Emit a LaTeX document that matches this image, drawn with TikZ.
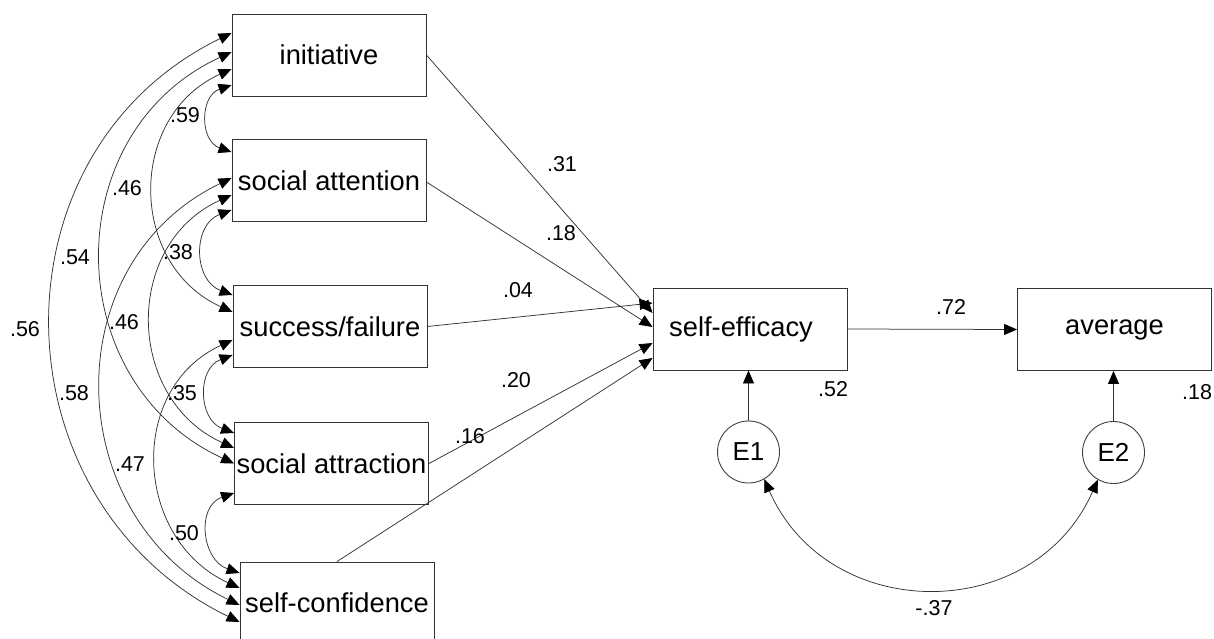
\documentclass[tikz,border=0pt]{standalone}
\usepackage{fontspec}
\setmainfont{Liberation Sans}
\usetikzlibrary{arrows.meta,calc}
\begin{document}
\begin{tikzpicture}[x=1pt,y=-1pt,
  box/.style={draw=black!80, line width=0.9pt, minimum width=194pt, minimum height=82pt, inner sep=0pt, font=\fontsize{27.3}{30}\selectfont},
  err/.style={draw=black!75, line width=0.9pt, circle, minimum size=62pt, inner sep=0pt, font=\fontsize{26}{28}\selectfont},
  lab/.style={font=\fontsize{21.5}{24}\selectfont, inner sep=0pt},
  link/.style={draw=black!80, line width=0.75pt},
  hd/.tip={Triangle[length=13pt,width=11pt,color=black,fill=black]},
  tip/.style={-hd},
  dtip/.style={hd-hd},
]
\useasboundingbox (0,0) rectangle (1214,639);

% nodes
\node[box] (ini) at (329,55) {initiative};
\node[box] (sat) at (329,180.5) {social attention};
\node[box] (suf) at (330,326.5) {success/failure};
\node[box] (sar) at (331.5,463.5) {social attraction};
\node[box] (sco) at (337,603) {self-confidence};
\node[box] (sef) at (750,329) {\hspace*{-18pt}self-efficacy};
\node[box] (avg) at (1114.5,329.5) {average};
\node[err] (e1) at (748.5,452) {E1};
\node[err] (e2) at (1113.5,452.5) {E2};

% regressions
\draw[link,tip] (ini.east) -- ([yshift=16pt]sef.west);
\draw[link,tip] ([yshift=-1.5pt]sat.east) -- ([yshift=2pt]sef.west);
\draw[link,tip] (suf.east) -- ([yshift=26pt]sef.west);
\draw[link,tip] (sar.east) -- ([yshift=-14pt]sef.west);
\draw[link,tip] (sco.north) -- ([yshift=-29pt]sef.west);
\draw[link,tip] (sef.east) -- (avg.west);
\draw[link,tip] (e1.north) -- (e1.north |- sef.south);
\draw[link,tip] (e2.north) -- (e2.north |- avg.south);
\draw[link,dtip] (e1.300) .. controls +(63.9,145.5) and +(-63.9,145.5) .. (e2.240);

% correlations
\draw[link,dtip] ([yshift=22pt]ini.west) .. controls +(-245.4,119.7) and +(-245.4,-119.7) .. ([yshift=-19pt]sco.west);
\draw[link,dtip] ([yshift=3pt]ini.west) .. controls +(-175.2,80.8) and +(-175.2,-80.8) .. (sar.west);
\draw[link,dtip] ([yshift=2.5pt]sat.west) .. controls +(-178.6,86.3) and +(-178.6,-86.3) .. ([yshift=-2pt]sco.west);
\draw[link,dtip] ([yshift=-14pt]ini.west) .. controls +(-104.6,47.2) and +(-104.6,-47.2) .. ([yshift=14.5pt]suf.west);
\draw[link,dtip] ([yshift=-14.5pt]sat.west) .. controls +(-108.7,49.3) and +(-108.7,-49.3) .. ([yshift=15.5pt]sar.west);
\draw[link,dtip] ([yshift=-13.5pt]suf.west) .. controls +(-105.9,48.7) and +(-105.9,-48.7) .. ([yshift=15pt]sco.west);
\draw[link,dtip] ([yshift=-30pt]ini.west) .. controls +(-31.9,11) and +(-31.9,-11) .. ([yshift=28.5pt]sat.west);
\draw[link,dtip] ([yshift=-29.5pt]sat.west) .. controls +(-39.3,14.7) and +(-39.3,-14.7) .. ([yshift=31.5pt]suf.west);
\draw[link,dtip] ([yshift=-28.5pt]suf.west) .. controls +(-35.9,13.6) and +(-35.9,-13.6) .. ([yshift=30.5pt]sar.west);
\draw[link,dtip] ([yshift=-29.5pt]sar.west) .. controls +(-38,13.1) and +(-38,-13.1) .. ([yshift=30pt]sco.west);

% labels
\node[lab] (l59) at (185,115) {.59};
\node[lab] (l46a) at (127,188) {.46};
\node[lab] (l54) at (75,257) {.54};
\node[lab] (l38) at (178,252) {.38};
\node[lab] (l56) at (25,329) {.56};
\node[lab] (l46b) at (124,322) {.46};
\node[lab] (l58) at (74,393) {.58};
\node[lab] (l35) at (182,393) {.35};
\node[lab] (l47) at (130,464) {.47};
\node[lab] (l50) at (184,533) {.50};
\node[lab] (l31) at (562,164) {.31};
\node[lab] (l18) at (561,233) {.18};
\node[lab] (l04) at (518,290) {.04};
\node[lab] (l20) at (516,380) {.20};
\node[lab] (l16) at (470,436) {.16};
\node[lab] (l52) at (833,389) {.52};
\node[lab] (l18b) at (1197,392) {.18};
\node[lab] (l72) at (951,307) {.72};
\node[lab] (l37) at (934,608) {-.37};
\end{tikzpicture}
\end{document}
